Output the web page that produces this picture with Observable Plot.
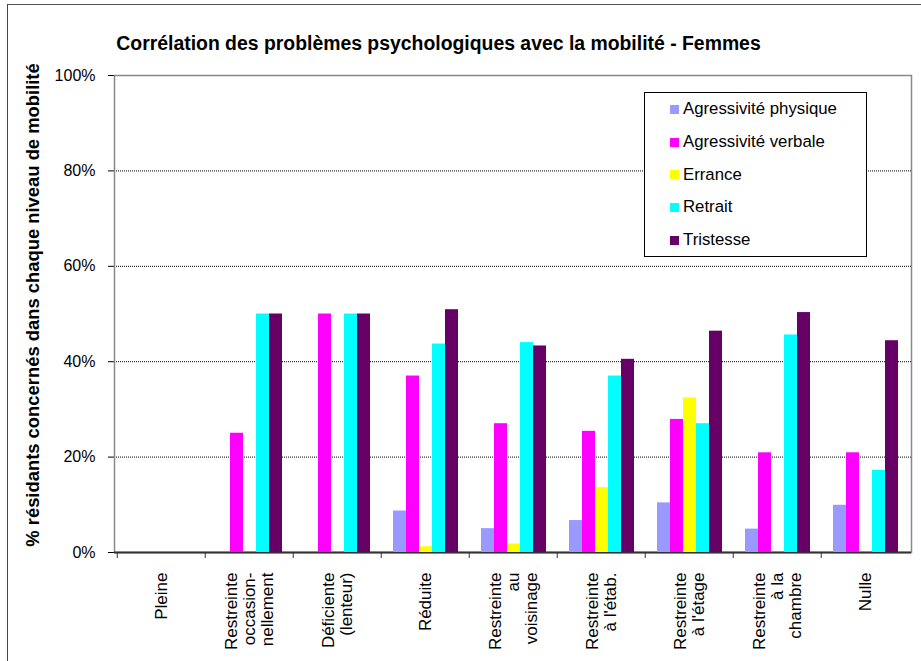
<!DOCTYPE html>
<html><head><meta charset="utf-8">
<script src="https://cdn.jsdelivr.net/npm/d3@7"></script>
<script src="https://cdn.jsdelivr.net/npm/@observablehq/plot@0.6"></script>
<style>
body{margin:0;background:#fff;overflow:hidden;font-family:"Liberation Sans",Arial,sans-serif;}
#wrap{position:relative;width:921px;height:661px;overflow:hidden;background:#fff;}
#wrap svg{position:absolute;left:0;top:0;}
#outer{position:absolute;left:7px;top:4px;width:1000px;height:1000px;border-left:1.5px solid #444;border-top:1.5px solid #555;}
#title{position:absolute;left:0;top:33px;width:877px;text-align:center;font-weight:bold;font-size:19.4px;line-height:20px;color:#000;}
#ylabel{position:absolute;left:-267px;top:295px;width:600px;height:20px;line-height:20px;text-align:center;font-weight:bold;font-size:18.4px;transform:rotate(-90deg);color:#000;white-space:nowrap;}
#legend{position:absolute;left:644px;top:92px;width:223px;height:165px;box-sizing:border-box;border:1px solid #000;background:#fff;}
#legend .row{height:32.7px;display:flex;align-items:center;font-size:16.8px;color:#000;}
#legend .sw{width:9px;height:9px;margin-left:25px;margin-right:4px;}
</style></head><body>
<div id="wrap"><div id="outer"></div></div>
<script>
const categories = ["Pleine","Restreinte\noccasion-\nnellement","Déficiente\n(lenteur)","Réduite","Restreinte\nau\nvoisinage","Restreinte\nà l'étab.","Restreinte\nà l'étage","Restreinte\nà la\nchambre","Nulle"];
const series = ["Agressivité physique","Agressivité verbale","Errance","Retrait","Tristesse"];
const colors = ["#9999FF","#FF00FF","#FFFF00","#00FFFF","#660066"];
const physique  = [0, 0, 0, 8.7, 5.0, 6.7, 10.4, 4.9, 9.9];
const verbale   = [0, 25, 50, 37.0, 27.0, 25.4, 27.9, 20.9, 20.9];
const errance   = [0, 0, 0, 1.2, 1.8, 13.6, 32.4, 0, 0];
const retrait   = [0, 50, 50, 43.7, 44.0, 37.0, 27.0, 45.6, 17.2];
const tristesse = [0, 50, 50, 50.9, 43.3, 40.5, 46.4, 50.3, 44.4];
const yTicks = [0, 20, 40, 60, 80, 100];
const gridValues = [20, 40, 60, 80];
const titleText = "Corrélation des problèmes psychologiques avec la mobilité - Femmes";
const yLabelText = "% résidants concernés dans chaque niveau de mobilité";

const valuesBySeries = [physique, verbale, errance, retrait, tristesse];
const rows = categories.flatMap((c, i) => series.map((s, j) => ({cat: c, serie: s, value: valuesBySeries[j][i]})));

const W = 921, H = 661, ML = 114, MR = 10, MT = 75, MB = 109;
const FONT = '"Liberation Sans", Arial, sans-serif';
const step = (W - ML - MR) / categories.length;

const base = Plot.plot({
  width: W, height: H, marginLeft: ML, marginRight: MR, marginTop: MT, marginBottom: MB,
  style: {background: "transparent", fontFamily: FONT, fontSize: "16px", color: "#000"},
  x: {type: "band", domain: categories, padding: 0, axis: null},
  y: {domain: [0, 100], ticks: yTicks, tickFormat: d => d + "%", tickSize: 6, tickPadding: 13, label: null, line: true},
  marks: [
    Plot.ruleY(gridValues, {stroke: "#000", strokeDasharray: "1,1"}),
    Plot.frame({stroke: "#888", strokeWidth: 1.5}),
    Plot.ruleY([0], {stroke: "#333", strokeWidth: 2}),
    Plot.ruleX(categories, {x: d => d, y1: 0, y2: 0, insetBottom: -6, dx: -step / 2, stroke: "#333"}),
    Plot.text(categories, {x: d => d, text: d => d, frameAnchor: "bottom", rotate: -90, textAnchor: "end", lineAnchor: "middle", dy: 20, fontSize: 17, lineHeight: 1.05, fill: "#000"})
  ]
});

const bars = Plot.plot({
  width: W, height: H, marginLeft: ML, marginRight: MR, marginTop: MT, marginBottom: MB,
  style: {background: "transparent", fontFamily: FONT},
  facet: {data: rows, x: "cat"},
  fx: {domain: categories, padding: 0, axis: null, label: null},
  x: {domain: series, paddingInner: 0, paddingOuter: 0.73, axis: null},
  y: {domain: [0, 100], axis: null},
  color: {domain: series, range: colors},
  marks: [
    Plot.barY(rows, {x: "serie", y: "value", fill: "serie"})
  ]
});

const wrap = document.getElementById("wrap");
wrap.appendChild(base);
wrap.appendChild(bars);

const title = document.createElement("div");
title.id = "title"; title.textContent = titleText; wrap.appendChild(title);
const ylab = document.createElement("div");
ylab.id = "ylabel"; ylab.textContent = yLabelText; wrap.appendChild(ylab);

const legend = document.createElement("div");
legend.id = "legend";
series.forEach((s, j) => {
  const row = document.createElement("div"); row.className = "row";
  const sw = document.createElement("span"); sw.className = "sw"; sw.style.background = colors[j];
  const t = document.createElement("span"); t.textContent = s;
  row.appendChild(sw); row.appendChild(t); legend.appendChild(row);
});
wrap.appendChild(legend);
</script>
</body></html>
